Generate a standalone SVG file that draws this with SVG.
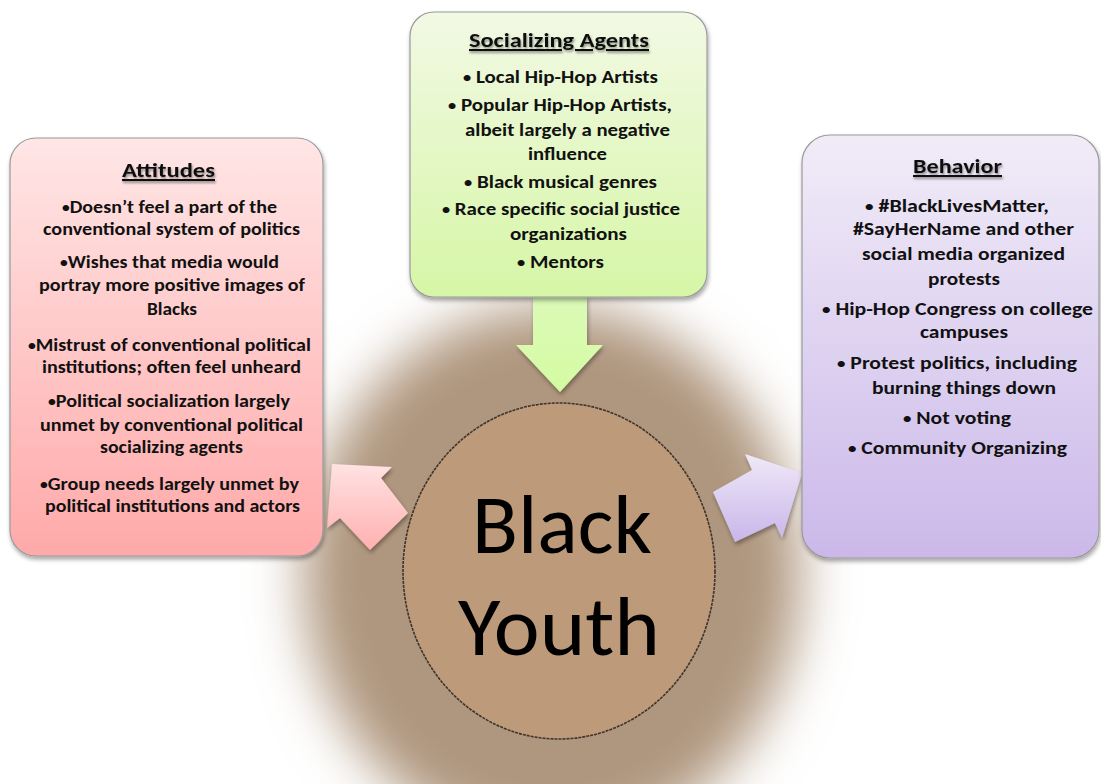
<svg xmlns="http://www.w3.org/2000/svg" width="1101" height="784" viewBox="0 0 1101 784">
<defs>
<filter id="blur" x="-40%" y="-40%" width="180%" height="180%">
<feGaussianBlur stdDeviation="27"/>
</filter>
<linearGradient id="gGreen" x1="0" y1="0" x2="0" y2="1">
<stop offset="0" stop-color="#f2f9e4"/>
<stop offset="1" stop-color="#d6f6a6"/>
</linearGradient>
<linearGradient id="gPink" x1="0" y1="0" x2="0" y2="1">
<stop offset="0" stop-color="#ffe6e6"/>
<stop offset="1" stop-color="#ffa9a9"/>
</linearGradient>
<linearGradient id="gPurple" x1="0" y1="0" x2="0" y2="1">
<stop offset="0" stop-color="#f1ecf8"/>
<stop offset="1" stop-color="#cbb8e9"/>
</linearGradient>
<linearGradient id="aGreen" x1="0" y1="0" x2="0" y2="1">
<stop offset="0" stop-color="#dcfab8"/>
<stop offset="1" stop-color="#d4fca2"/>
</linearGradient>
<linearGradient id="aPink" x1="0" y1="0" x2="0" y2="1">
<stop offset="0" stop-color="#ffe2e2"/>
<stop offset="1" stop-color="#ffb0b0"/>
</linearGradient>
<linearGradient id="aPurple" x1="0" y1="0" x2="0" y2="1">
<stop offset="0" stop-color="#efe9f8"/>
<stop offset="1" stop-color="#c9b6ea"/>
</linearGradient>
<filter id="shadow" x="-10%" y="-10%" width="120%" height="125%">
<feDropShadow dx="1" dy="3" stdDeviation="2" flood-color="#000" flood-opacity="0.35"/>
</filter>
<filter id="tshadow" x="-10%" y="-30%" width="120%" height="180%">
<feDropShadow dx="1" dy="2" stdDeviation="1.2" flood-color="#444" flood-opacity="0.55"/>
</filter>
</defs>
<style>
.box{stroke:#9a9a9a;stroke-width:1.2;filter:url(#shadow)}
.t{font-family:Carlito,Lato,"Liberation Sans",sans-serif;font-weight:bold;font-size:18px;fill:#111;text-anchor:middle}
.b{font-size:14px}
.title{font-size:21px;text-decoration:underline;filter:url(#tshadow)}
.big{font-family:Carlito,Lato,"Liberation Sans",sans-serif;font-size:84px;fill:#000;text-anchor:middle}
.arrow{stroke:none;filter:url(#shadow)}
</style>
<rect width="1101" height="784" fill="#ffffff"/>
<ellipse cx="552" cy="575" rx="248" ry="268" fill="#af967e" filter="url(#blur)"/>

<g id="center-node">
<ellipse cx="559" cy="571" rx="156" ry="168" fill="#bc9a7a" stroke="#3e342c" stroke-width="1.6" stroke-dasharray="3 1"/>
<text class="big" x="562" y="553" textLength="180" lengthAdjust="spacingAndGlyphs">Black</text>
<text class="big" x="559" y="655" textLength="202" lengthAdjust="spacingAndGlyphs">Youth</text>
</g>

<g id="connectors">
<polygon class="arrow" fill="url(#aGreen)" points="533,296 587,296 587,345 603,345 560,392 516,345 533,345"/>
<polygon class="arrow" fill="url(#aPink)" points="332,464 392,467 381,478 408,513 370,550 340,518 327,528"/>
<polygon class="arrow" fill="url(#aPurple)" points="745,454 802,473 782,538 775,523 735,542 713,492 752,470"/>
</g>

<g id="socializing-agents">
<rect class="box" x="410" y="12" width="297" height="285" rx="24" fill="url(#gGreen)"/>
<text class="t title" x="559" y="47" textLength="180" lengthAdjust="spacingAndGlyphs">Socializing Agents</text>
<text class="t" x="560.5" y="83" textLength="195" lengthAdjust="spacingAndGlyphs"><tspan class="b" baseline-shift="1">•</tspan> Local Hip-Hop Artists</text>
<text class="t" x="560" y="111" textLength="224" lengthAdjust="spacingAndGlyphs"><tspan class="b" baseline-shift="1">•</tspan> Popular Hip-Hop Artists,</text>
<text class="t" x="567.5" y="136" textLength="205" lengthAdjust="spacingAndGlyphs">albeit largely a negative</text>
<text class="t" x="567.5" y="160" textLength="79" lengthAdjust="spacingAndGlyphs">influence</text>
<text class="t" x="560.5" y="188" textLength="193" lengthAdjust="spacingAndGlyphs"><tspan class="b" baseline-shift="1">•</tspan> Black musical genres</text>
<text class="t" x="561" y="215" textLength="238" lengthAdjust="spacingAndGlyphs"><tspan class="b" baseline-shift="1">•</tspan> Race specific social justice</text>
<text class="t" x="568.5" y="240" textLength="117" lengthAdjust="spacingAndGlyphs">organizations</text>
<text class="t" x="560.5" y="268" textLength="87" lengthAdjust="spacingAndGlyphs"><tspan class="b" baseline-shift="1">•</tspan> Mentors</text>
</g>

<g id="attitudes">
<rect class="box" x="10" y="138" width="313" height="418" rx="26" fill="url(#gPink)"/>
<text class="t title" x="168.5" y="177" textLength="93" lengthAdjust="spacingAndGlyphs">Attitudes</text>
<text class="t" x="169.5" y="213" textLength="215" lengthAdjust="spacingAndGlyphs"><tspan class="b" baseline-shift="1">•</tspan>Doesn’t feel a part of the</text>
<text class="t" x="171.5" y="235" textLength="257" lengthAdjust="spacingAndGlyphs">conventional system of politics</text>
<text class="t" x="169.5" y="268" textLength="219" lengthAdjust="spacingAndGlyphs"><tspan class="b" baseline-shift="1">•</tspan>Wishes that media would</text>
<text class="t" x="172" y="291" textLength="266" lengthAdjust="spacingAndGlyphs">portray more positive images of</text>
<text class="t" x="172" y="315" textLength="50" lengthAdjust="spacingAndGlyphs">Blacks</text>
<text class="t" x="169.5" y="351" textLength="283" lengthAdjust="spacingAndGlyphs"><tspan class="b" baseline-shift="1">•</tspan>Mistrust of conventional political</text>
<text class="t" x="171.5" y="373" textLength="259" lengthAdjust="spacingAndGlyphs">institutions; often feel unheard</text>
<text class="t" x="169" y="407" textLength="242" lengthAdjust="spacingAndGlyphs"><tspan class="b" baseline-shift="1">•</tspan>Political socialization largely</text>
<text class="t" x="171.5" y="431" textLength="263" lengthAdjust="spacingAndGlyphs">unmet by conventional political</text>
<text class="t" x="171.5" y="453" textLength="143" lengthAdjust="spacingAndGlyphs">socializing agents</text>
<text class="t" x="169.5" y="490" textLength="259" lengthAdjust="spacingAndGlyphs"><tspan class="b" baseline-shift="1">•</tspan>Group needs largely unmet by</text>
<text class="t" x="172.5" y="512" textLength="255" lengthAdjust="spacingAndGlyphs">political institutions and actors</text>
</g>

<g id="behavior">
<rect class="box" x="802" y="135" width="297" height="423" rx="28" fill="url(#gPurple)"/>
<text class="t title" x="957.5" y="173" textLength="89" lengthAdjust="spacingAndGlyphs">Behavior</text>
<text class="t" x="957" y="212" textLength="184" lengthAdjust="spacingAndGlyphs"><tspan class="b" baseline-shift="1">•</tspan> #BlackLivesMatter,</text>
<text class="t" x="963.5" y="235" textLength="221" lengthAdjust="spacingAndGlyphs">#SayHerName and other</text>
<text class="t" x="963.5" y="260" textLength="203" lengthAdjust="spacingAndGlyphs">social media organized</text>
<text class="t" x="964" y="285" textLength="72" lengthAdjust="spacingAndGlyphs">protests</text>
<text class="t" x="957.5" y="315" textLength="271" lengthAdjust="spacingAndGlyphs"><tspan class="b" baseline-shift="1">•</tspan> Hip-Hop Congress on college</text>
<text class="t" x="964" y="338" textLength="88" lengthAdjust="spacingAndGlyphs">campuses</text>
<text class="t" x="957" y="369" textLength="240" lengthAdjust="spacingAndGlyphs"><tspan class="b" baseline-shift="1">•</tspan> Protest politics, including</text>
<text class="t" x="964" y="394" textLength="184" lengthAdjust="spacingAndGlyphs">burning things down</text>
<text class="t" x="957" y="424" textLength="108" lengthAdjust="spacingAndGlyphs"><tspan class="b" baseline-shift="1">•</tspan> Not voting</text>
<text class="t" x="957.5" y="454" textLength="219" lengthAdjust="spacingAndGlyphs"><tspan class="b" baseline-shift="1">•</tspan> Community Organizing</text>
</g>
</svg>
